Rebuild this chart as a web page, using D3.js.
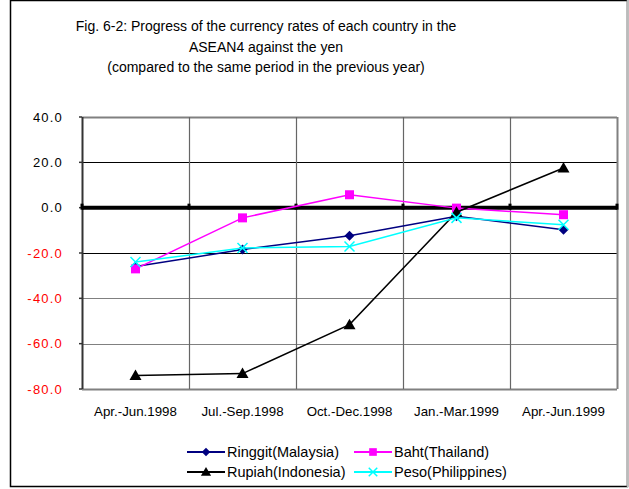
<!DOCTYPE html>
<html>
<head>
<meta charset="utf-8">
<script src="https://cdn.jsdelivr.net/npm/d3@7"></script>
<style>
  body { margin: 0; background: #fff; }
  svg { display: block; font-family: "Liberation Sans", Arial, sans-serif; }
</style>
</head>
<body>
<div id="chart"></div>
<script>
const categories = ['Apr.-Jun.1998', 'Jul.-Sep.1998', 'Oct.-Dec.1998', 'Jan.-Mar.1999', 'Apr.-Jun.1999'];
const ringgit = [-26.0, -18.5, -12.4, -3.8, -9.7];
const baht = [-27.0, -4.5, 5.7, -0.2, -3.1];
const rupiah = [-74.0, -73.2, -51.6, -2.0, 17.5];
const peso = [-24.0, -17.8, -17.1, -4.5, -7.5];
const yTicks = [40, 20, 0, -20, -40, -60, -80];
const titleLines = [
  'Fig. 6-2: Progress of the currency rates of each country in the',
  'ASEAN4 against the yen',
  '(compared to the same period in the previous year)'
];

const series = [
  { name: 'Ringgit(Malaysia)', values: ringgit, color: '#000080', marker: 'diamond' },
  { name: 'Baht(Thailand)', values: baht, color: '#ff00ff', marker: 'square' },
  { name: 'Rupiah(Indonesia)', values: rupiah, color: '#000000', marker: 'triangle' },
  { name: 'Peso(Philippines)', values: peso, color: '#00ffff', marker: 'cross' }
];

const width = 629, height = 489;
const margin = { top: 117, right: 12, bottom: 100, left: 82 };

const svg = d3.select('#chart').append('svg')
  .attr('width', width)
  .attr('height', height);

// outer frame
svg.append('rect')
  .attr('x', 10.5).attr('y', 0.5)
  .attr('width', 617).attr('height', 486)
  .attr('fill', 'none').attr('stroke', '#000').attr('stroke-width', 1.5);
svg.append('line')
  .attr('x1', 627.5).attr('x2', 627.5).attr('y1', 0).attr('y2', 487)
  .attr('stroke', '#bbb').attr('stroke-width', 1.5);

svg.selectAll('.title')
  .data(titleLines)
  .enter().append('text')
  .attr('x', 266)
  .attr('y', (d, i) => 31 + i * 20.5)
  .attr('text-anchor', 'middle')
  .attr('font-size', 14)
  .attr('fill', '#000')
  .text(d => d);

const x = d3.scaleBand().domain(categories).range([margin.left, width - margin.right]).padding(0);
const y = d3.scaleLinear().domain([-80, 40]).range([height - margin.bottom, margin.top]);

// horizontal gridlines
svg.append('g')
  .selectAll('line')
  .data(yTicks)
  .enter().append('line')
  .attr('x1', margin.left).attr('x2', width - margin.right)
  .attr('y1', d => Math.round(y(d)) + 0.5).attr('y2', d => Math.round(y(d)) + 0.5)
  .attr('stroke', d => (d === 20 || d === -20) ? '#000' : '#808080')
  .attr('stroke-width', d => (d === 40 || d === -80) ? 2 : 1.2);

// vertical gridlines
const bounds = categories.map(c => x(c)).concat([x.range()[1]]);
svg.append('g')
  .selectAll('line')
  .data(bounds)
  .enter().append('line')
  .attr('x1', d => Math.round(d) + 0.5).attr('x2', d => Math.round(d) + 0.5)
  .attr('y1', y(40)).attr('y2', y(-80))
  .attr('stroke', (d, i) => i === 0 ? '#333' : (i === bounds.length - 1 ? '#808080' : '#666'))
  .attr('stroke-width', (d, i) => (i === 0 || i === bounds.length - 1) ? 2 : 1.2);

// y axis labels
svg.append('g')
  .selectAll('text')
  .data(yTicks)
  .enter().append('text')
  .attr('x', 63)
  .attr('y', d => y(d) + 4.5)
  .attr('text-anchor', 'end')
  .attr('font-size', 13)
  .attr('letter-spacing', 1.2)
  .attr('fill', d => d < 0 ? '#ff0000' : '#000')
  .text(d => d.toFixed(1));

// y axis small ticks
svg.append('g')
  .selectAll('line')
  .data(yTicks)
  .enter().append('line')
  .attr('x1', margin.left - 3).attr('x2', margin.left)
  .attr('y1', d => y(d)).attr('y2', d => y(d))
  .attr('stroke', '#333').attr('stroke-width', 1.5);

// zero axis line (thick) with tick marks
svg.append('line')
  .attr('x1', margin.left).attr('x2', width - margin.right)
  .attr('y1', y(0)).attr('y2', y(0))
  .attr('stroke', '#000').attr('stroke-width', 4);
svg.append('g')
  .selectAll('rect')
  .data(bounds)
  .enter().append('rect')
  .attr('x', d => d - 1.5).attr('y', y(0) - 4)
  .attr('width', 3).attr('height', 6)
  .attr('fill', '#000');

// x labels
svg.append('g')
  .selectAll('text')
  .data(categories)
  .enter().append('text')
  .attr('x', d => x(d) + x.bandwidth() / 2)
  .attr('y', 416)
  .attr('text-anchor', 'middle')
  .attr('font-size', 13.3)
  .attr('fill', '#000')
  .text(d => d);

function drawMarker(g, type, color, cx, cy, k = 1) {
  if (type === 'diamond') {
    g.append('path')
      .attr('d', `M${cx},${cy - 5 * k}L${cx + 5 * k},${cy}L${cx},${cy + 5 * k}L${cx - 5 * k},${cy}Z`)
      .attr('fill', color);
  } else if (type === 'square') {
    g.append('rect')
      .attr('x', cx - 4.5 * k).attr('y', cy - 4.5 * k)
      .attr('width', 9 * k).attr('height', 9 * k)
      .attr('fill', color);
  } else if (type === 'triangle') {
    g.append('path')
      .attr('d', `M${cx},${cy - 6 * k}L${cx + 6 * k},${cy + 4.5 * k}L${cx - 6 * k},${cy + 4.5 * k}Z`)
      .attr('fill', color);
  } else {
    g.append('path')
      .attr('d', `M${cx - 5 * k},${cy - 5 * k}L${cx + 5 * k},${cy + 5 * k}M${cx + 5 * k},${cy - 5 * k}L${cx - 5 * k},${cy + 5 * k}`)
      .attr('stroke', color).attr('stroke-width', 1.5).attr('fill', 'none');
  }
}

const line = d3.line()
  .x((d, i) => x(categories[i]) + x.bandwidth() / 2)
  .y(d => y(d));

series.forEach(s => {
  const g = svg.append('g');
  g.append('path')
    .datum(s.values)
    .attr('d', line)
    .attr('fill', 'none')
    .attr('stroke', s.color)
    .attr('stroke-width', 1.5);
  s.values.forEach((v, i) => {
    drawMarker(g, s.marker, s.color, x(categories[i]) + x.bandwidth() / 2, y(v));
  });
});

// legend
const legendPos = [
  { lx: 187, ly: 452 }, { lx: 354, ly: 452 },
  { lx: 187, ly: 472 }, { lx: 354, ly: 472 }
];
series.forEach((s, i) => {
  const p = legendPos[i];
  const g = svg.append('g');
  g.append('line')
    .attr('x1', p.lx).attr('x2', p.lx + 38)
    .attr('y1', p.ly).attr('y2', p.ly)
    .attr('stroke', s.color).attr('stroke-width', 2);
  drawMarker(g, s.marker, s.color, p.lx + 19, p.ly, 0.85);
  g.append('text')
    .attr('x', p.lx + 40)
    .attr('y', p.ly + 5)
    .attr('font-size', 14.5)
    .attr('fill', '#000')
    .text(s.name);
});
</script>
</body>
</html>
